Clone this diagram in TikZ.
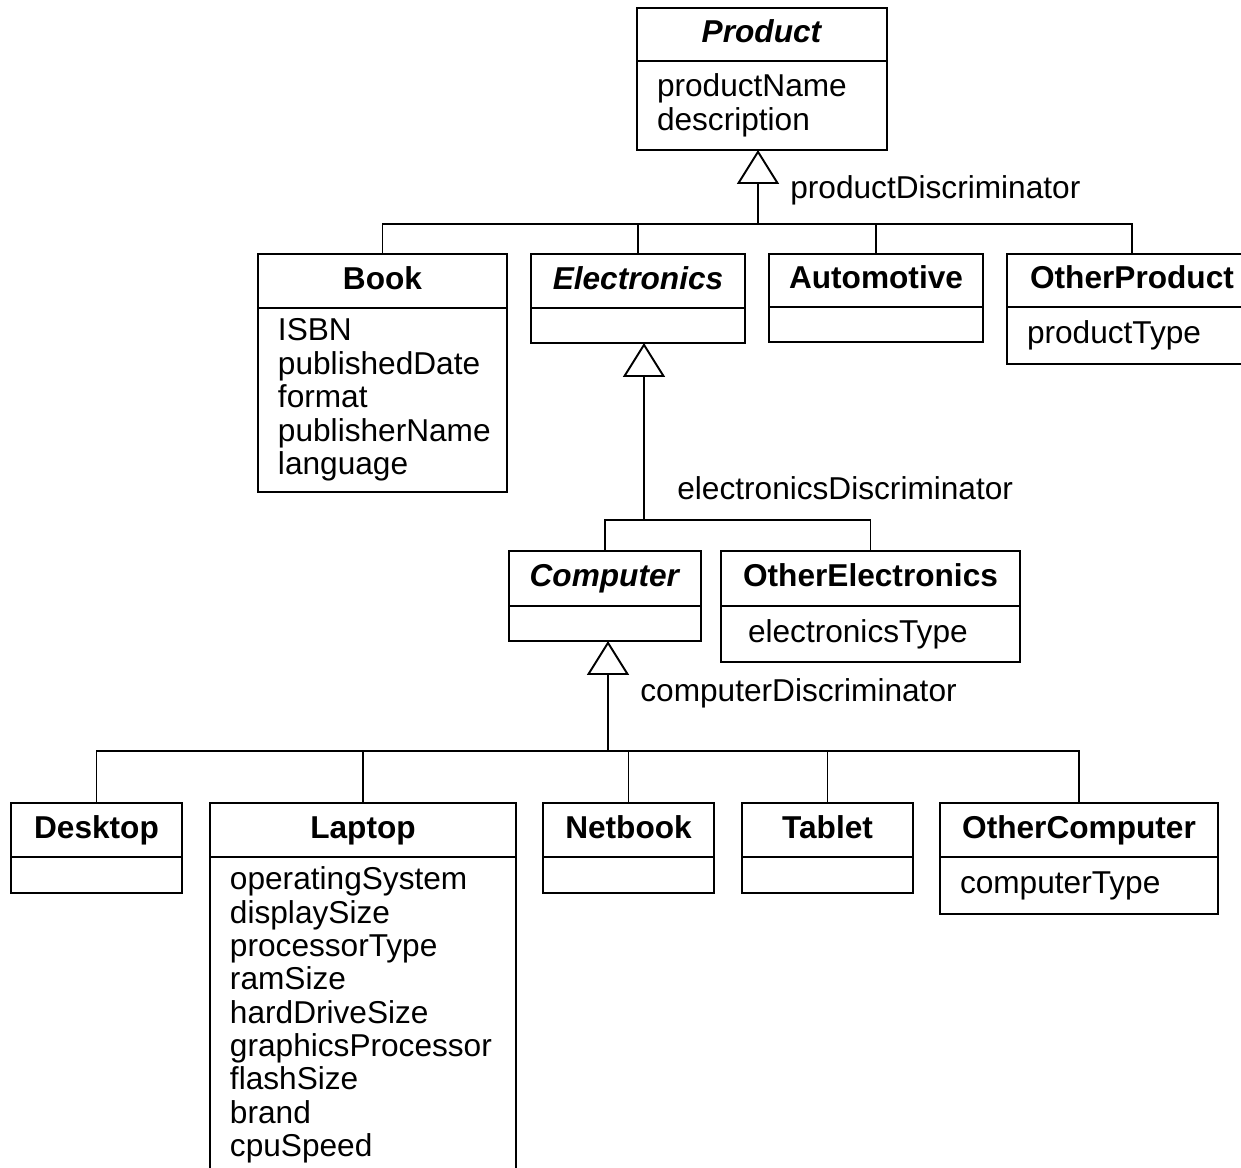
\documentclass[tikz,border=0pt]{standalone}
\usepackage{fontspec}
\setmainfont{Liberation Sans}
\usetikzlibrary{arrows.meta}

\tikzset{
  boxsize/.style 2 args={minimum width=#1*0.02cm, minimum height=#2*0.02cm},
  classname/.style={draw, line width=1.1pt, anchor=north west, inner sep=0pt,
    outer sep=0pt, text height=13pt, text depth=3.8pt,
    font=\fontsize{18pt}{19pt}\selectfont\bfseries},
  attrbox/.style={draw, line width=1.1pt, anchor=north west, inner xsep=0.4cm,
    inner ysep=0pt, outer sep=0pt, align=left, font=\fontsize{18pt}{19pt}\selectfont},
  disc/.style={anchor=west, inner sep=0pt, font=\fontsize{18pt}{19pt}\selectfont},
  branch/.style={line width=1.1pt},
  gen/.style={line width=1.1pt, -{Triangle[open, length=0.68cm, width=0.84cm]}}
}

\begin{document}
\begin{tikzpicture}[x=0.02cm, y=-0.02cm]
  \clip (0,0) rectangle (1241,1168);

  % Product
  \node[classname, boxsize={250}{53}] (product) at (637,8) {\textit{Product}};
  \node[attrbox, text width=4.2cm, minimum height=89*0.02cm] (productBody)
    at (product.south west) {productName\\description};

  % Subclasses of Product
  \node[classname, boxsize={249}{54}] (book) at (258,254) {Book};
  \node[attrbox, text width=4.18cm, minimum height=184*0.02cm] (bookBody)
    at (book.south west) {ISBN\\publishedDate\\format\\publisherName\\language};
  \node[classname, boxsize={214}{54}] (electronics) at (531,254) {\textit{Electronics}};
  \node[attrbox, boxsize={214}{35}] (electronicsBody) at (electronics.south west) {};
  \node[classname, boxsize={214}{53}] (automotive) at (769,254) {Automotive};
  \node[attrbox, boxsize={214}{35}] (automotiveBody) at (automotive.south west) {};
  \node[classname, boxsize={250}{53}] (otherProduct) at (1007,254) {OtherProduct};
  \node[attrbox, text width=4.2cm, minimum height=57*0.02cm] (otherProductBody)
    at (otherProduct.south west) {productType};

  % Subclasses of Electronics
  \node[classname, boxsize={192}{55}] (computer) at (509,551) {\textit{Computer}};
  \node[attrbox, boxsize={192}{35}] (computerBody) at (computer.south west) {};
  \node[classname, boxsize={299}{55}] (otherElectronics) at (721,551) {OtherElectronics};
  \node[attrbox, inner xsep=0.54cm, text width=4.9cm, minimum height=56*0.02cm]
    (otherElectronicsBody) at (otherElectronics.south west) {electronicsType};

  % Subclasses of Computer
  \node[classname, boxsize={171}{54}] (desktop) at (11,803) {Desktop};
  \node[attrbox, boxsize={171}{36}] (desktopBody) at (desktop.south west) {};
  \node[classname, boxsize={306}{54}] (laptop) at (210,803) {Laptop};
  \node[attrbox, text width=5.32cm, minimum height=316*0.02cm] (laptopBody)
    at (laptop.south west) {operatingSystem\\displaySize\\processorType\\ramSize\\
    hardDriveSize\\graphicsProcessor\\flashSize\\brand\\cpuSpeed};
  \node[classname, boxsize={171}{54}] (netbook) at (543,803) {Netbook};
  \node[attrbox, boxsize={171}{36}] (netbookBody) at (netbook.south west) {};
  \node[classname, boxsize={171}{54}] (tablet) at (742,803) {Tablet};
  \node[attrbox, boxsize={171}{36}] (tabletBody) at (tablet.south west) {};
  \node[classname, boxsize={278}{54}] (otherComputer) at (940,803) {OtherComputer};
  \node[attrbox, text width=4.76cm, minimum height=57*0.02cm] (otherComputerBody)
    at (otherComputer.south west) {computerType};

  % Generalization trees
  \coordinate (productJoin) at (758,224);
  \draw[gen] (productJoin) -- (productJoin |- productBody.south);
  \draw[branch] (productJoin) -| (book.north);
  \draw[branch] (productJoin) -| (electronics.north);
  \draw[branch] (productJoin) -| (automotive.north);
  \draw[branch] (productJoin) -| (otherProduct.north);

  \coordinate (electronicsJoin) at (644,520);
  \draw[gen] (electronicsJoin) -- (electronicsJoin |- electronicsBody.south);
  \draw[branch] (electronicsJoin) -| (computer.north);
  \draw[branch] (electronicsJoin) -| (otherElectronics.north);

  \coordinate (computerJoin) at (608,751);
  \draw[gen] (computerJoin) -- (computerJoin |- computerBody.south);
  \draw[branch] (computerJoin) -| (desktop.north);
  \draw[branch] (computerJoin) -| (laptop.north);
  \draw[branch] (computerJoin) -| (netbook.north);
  \draw[branch] (computerJoin) -| (tablet.north);
  \draw[branch] (computerJoin) -| (otherComputer.north);

  % Discriminators
  \node[disc] (productDisc) at (790,190) {productDiscriminator};
  \node[disc] (electronicsDisc) at (677,488) {electronicsDiscriminator};
  \node[disc] (computerDisc) at (640,693) {computerDiscriminator};
\end{tikzpicture}
\end{document}
